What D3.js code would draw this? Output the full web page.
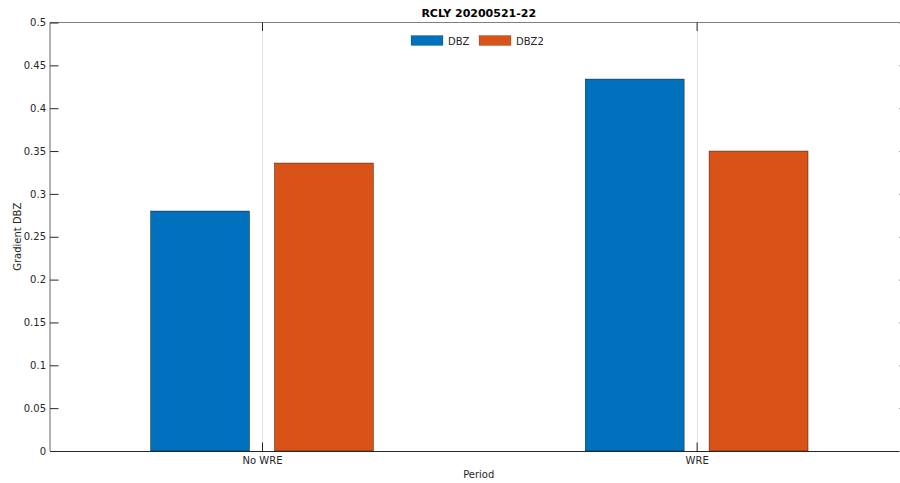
<!DOCTYPE html>
<html><head><meta charset="utf-8">
<script src="https://cdn.jsdelivr.net/npm/d3@7"></script>
<style>body{margin:0;background:#fff}svg{display:block;font-family:"DejaVu Sans",sans-serif}</style>
</head><body><div id="c"></div>
<script>
const categories = ["No WRE", "WRE"];
const seriesNames = ["DBZ", "DBZ2"];
const dbz = [0.280, 0.434];
const dbz2 = [0.336, 0.350];
const yTicks = [0, 0.05, 0.1, 0.15, 0.2, 0.25, 0.3, 0.35, 0.4, 0.45, 0.5];
const yTickLabels = ["0", "0.05", "0.1", "0.15", "0.2", "0.25", "0.3", "0.35", "0.4", "0.45", "0.5"];
const colors = ["#0072BD", "#D95319"];
const title = "RCLY 20200521-22";
const xLabel = "Period";
const yLabel = "Gradient DBZ";

const W = 900, H = 483;
const L = 50, R = 907.5, T = 22.5, B = 451;
const svg = d3.select("#c").append("svg").attr("width", W).attr("height", H);

const x = d3.scaleLinear().domain([-0.4878, 1.4852]).range([L, R]);
const y = d3.scaleLinear().domain([0, 0.5]).range([B, T]);
const barW = 0.2276, off = 0.1425;
const tickLen = 8.5;
const axisCol = "#262626";

// grid lines (vertical at categories)
svg.append("g").selectAll("line").data(categories).join("line")
  .attr("x1", (d, i) => Math.round(x(i)) + 0.5).attr("x2", (d, i) => Math.round(x(i)) + 0.5)
  .attr("y1", T).attr("y2", B).attr("stroke", "#e3e3e3").attr("stroke-width", 1);

// bars
const series = [dbz, dbz2];
series.forEach((vals, s) => {
  svg.append("g").selectAll("rect").data(vals).join("rect")
    .attr("x", (d, i) => x(i + (s === 0 ? -off : off) - barW / 2))
    .attr("width", (d, i) => x(i + barW) - x(i))
    .attr("y", d => y(d))
    .attr("height", d => y(0) - y(d))
    .attr("fill", colors[s])
    .attr("stroke", "#000").attr("stroke-width", 0.5).attr("stroke-opacity", 0.8);
});

// axes box lines
svg.append("line").attr("x1", L).attr("x2", R).attr("y1", T).attr("y2", T).attr("stroke", "#7f7f7f").attr("stroke-width", 1.2);
svg.append("line").attr("x1", L).attr("x2", L).attr("y1", T).attr("y2", B).attr("stroke", "#7f7f7f").attr("stroke-width", 1.2);
svg.append("line").attr("x1", R).attr("x2", R).attr("y1", T).attr("y2", B).attr("stroke", "#7f7f7f").attr("stroke-width", 1.2);
svg.append("line").attr("x1", L).attr("x2", R).attr("y1", B + 0.5).attr("y2", B + 0.5).attr("stroke", axisCol).attr("stroke-width", 1);

// y axis via d3 axis (inward ticks)
const yAxis = d3.axisLeft(y).tickValues(yTicks).tickFormat((d, i) => yTickLabels[i]).tickSizeInner(-tickLen).tickSizeOuter(0).tickPadding(4);
const gy = svg.append("g").attr("transform", `translate(${L},0)`).call(yAxis);
gy.select(".domain").remove();
gy.selectAll(".tick line").attr("stroke", axisCol).attr("stroke-width", 1);
gy.selectAll(".tick text").attr("fill", axisCol).attr("font-size", 10).attr("font-family", "DejaVu Sans");

// right ticks
const yAxisR = d3.axisRight(y).tickValues(yTicks).tickFormat("").tickSizeInner(-tickLen).tickSizeOuter(0);
const gyr = svg.append("g").attr("transform", `translate(${R},0)`).call(yAxisR);
gyr.select(".domain").remove();
gyr.selectAll(".tick line").attr("stroke", "#999").attr("stroke-width", 1);

// x axis bottom
const xAxis = d3.axisBottom(x).tickValues([0, 1]).tickFormat((d, i) => categories[i]).tickSizeInner(-tickLen).tickSizeOuter(0).tickPadding(6);
const gx = svg.append("g").attr("transform", `translate(0,${B})`).call(xAxis);
gx.select(".domain").remove();
gx.selectAll(".tick line").attr("stroke", axisCol).attr("stroke-width", 1);
gx.selectAll(".tick text").attr("fill", axisCol).attr("font-size", 10).attr("font-family", "DejaVu Sans");

// x axis top ticks
const xAxisT = d3.axisTop(x).tickValues([0, 1]).tickFormat("").tickSizeInner(-tickLen).tickSizeOuter(0);
const gxt = svg.append("g").attr("transform", `translate(0,${T})`).call(xAxisT);
gxt.select(".domain").remove();
gxt.selectAll(".tick line").attr("stroke", axisCol).attr("stroke-width", 1);

// title
svg.append("text").attr("x", (L + R) / 2).attr("y", 17).attr("text-anchor", "middle")
  .attr("font-size", 11).attr("font-weight", "bold").attr("fill", "#000").text(title);

// labels
svg.append("text").attr("x", (L + R) / 2).attr("y", 478).attr("text-anchor", "middle")
  .attr("font-size", 10).attr("fill", axisCol).text(xLabel);
svg.append("text").attr("transform", `translate(20.5,${(T + B) / 2}) rotate(-90)`).attr("text-anchor", "middle")
  .attr("font-size", 10).attr("fill", axisCol).text(yLabel);

// legend
const lg = svg.append("g");
const legX = [411, 479];
seriesNames.forEach((n, i) => {
  lg.append("rect").attr("x", legX[i]).attr("y", 35.5).attr("width", 32).attr("height", 10)
    .attr("fill", colors[i]).attr("stroke", "#000").attr("stroke-width", 0.3).attr("stroke-opacity", 0.5);
  lg.append("text").attr("x", legX[i] + 37).attr("y", 44.5).attr("font-size", 10).attr("fill", axisCol).text(n);
});
</script></body></html>
